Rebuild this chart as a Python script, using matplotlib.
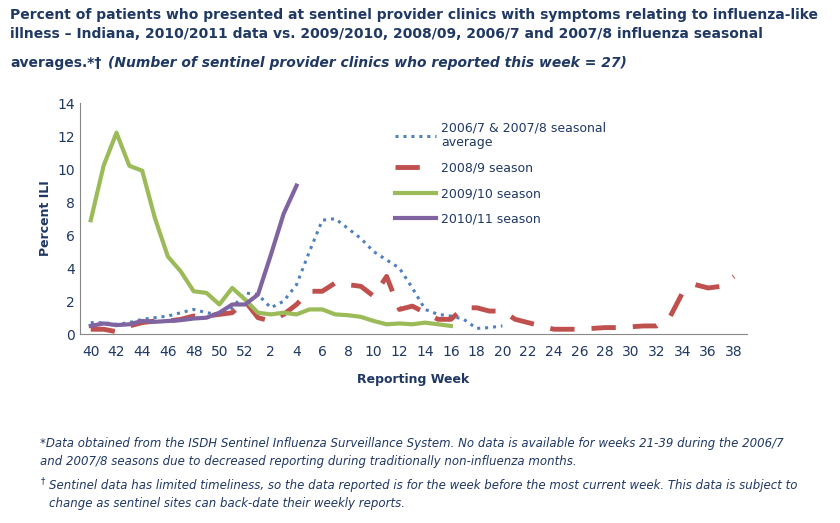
import matplotlib
matplotlib.use("Agg")
import matplotlib.pyplot as plt

weeks = list(range(40, 53)) + list(range(1, 39))
tick_labels = [str(w) for w in weeks]

avg_0607_0708 = [0.7, 0.7, 0.6, 0.7, 0.9, 1.0, 1.1, 1.3, 1.5, 1.3, 1.2, 1.6, 2.5, 2.4, 1.6, 2.0,
                 3.0, 5.0, 6.9, 7.0, 6.4, 5.8, 5.0, 4.5, 4.0, 2.8, 1.5, 1.2, 1.1, 0.9, 0.35, 0.4, 0.5]
season_0809 = [0.3, 0.3, 0.15, 0.5, 0.7, 0.8, 0.8, 0.9, 1.1, 1.1, 1.2, 1.3, 2.0, 1.0, 0.8, 1.2,
               1.8, 2.6, 2.6, 3.1, 3.0, 2.9, 2.3, 3.5, 1.5, 1.7, 1.3, 0.9, 0.9, 1.6, 1.6, 1.4,
               1.4, 0.9, 0.7, 0.5, 0.3, 0.3, 0.3, 0.35, 0.4, 0.4, 0.45, 0.5, 0.5, 1.0, 2.5,
               3.0, 2.8, 2.9, 3.5]
season_0910 = [6.9, 10.2, 12.2, 10.2, 9.9, 7.0, 4.7, 3.8, 2.6, 2.5, 1.8, 2.8, 2.1, 1.3, 1.2,
               1.3, 1.2, 1.5, 1.5, 1.2, 1.15, 1.05, 0.8, 0.6, 0.65, 0.6, 0.7, 0.6, 0.5]
season_1011 = [0.5, 0.65, 0.55, 0.6, 0.8, 0.75, 0.8, 0.85, 0.95, 1.0, 1.3, 1.8, 1.8, 2.4,
               4.8, 7.3, 9.0]

navy = "#1F3864"
fig = plt.figure(figsize=(8.4, 5.23), dpi=100)
ax = fig.add_axes([0.095, 0.361, 0.794, 0.442])

ax.plot(range(len(avg_0607_0708)), avg_0607_0708, color="#4F81BD", lw=2.2,
        linestyle=(0, (1, 1.6)), label="2006/7 & 2007/8 seasonal\naverage")
ax.plot(range(len(season_0809)), season_0809, color="#C0504D", lw=3.5,
        linestyle=(0, (5, 3.5)), label="2008/9 season")
ax.plot(range(len(season_0910)), season_0910, color="#9BBB59", lw=3, label="2009/10 season")
ax.plot(range(len(season_1011)), season_1011, color="#8064A2", lw=3, label="2010/11 season")

ax.set_xlim(-0.85, 51)
ax.set_ylim(0, 14)
ax.set_yticks(range(0, 15, 2))
ax.set_xticks(range(0, len(weeks), 2))
ax.set_xticklabels(tick_labels[::2])
ax.tick_params(colors=navy, labelsize=10, length=0)
ax.tick_params(axis="x", pad=8)
for s in ["top", "right"]:
    ax.spines[s].set_visible(False)
for s in ["left", "bottom"]:
    ax.spines[s].set_color("#888888")
ax.set_ylabel("Percent ILI", color=navy, fontsize=9, fontweight="bold")
ax.set_xlabel("Reporting Week", color=navy, fontsize=9, fontweight="bold", labelpad=10)

leg = ax.legend(loc="upper left", bbox_to_anchor=(0.455, 0.97), frameon=False,
                fontsize=9, handlelength=3.3, labelspacing=1.0, handletextpad=0.4)
for t in leg.get_texts():
    t.set_color(navy)

fig.text(0.012, 0.985, "Percent of patients who presented at sentinel provider clinics with symptoms relating to influenza-like\n"
         "illness \u2013 Indiana, 2010/2011 data vs. 2009/2010, 2008/09, 2006/7 and 2007/8 influenza seasonal",
         color=navy, fontsize=10, fontweight="bold", va="top", linespacing=1.45)
fig.text(0.012, 0.893, "averages.*\u2020", color=navy, fontsize=10, fontweight="bold", va="top")
fig.text(0.128, 0.893, "(Number of sentinel provider clinics who reported this week = 27)",
         color=navy, fontsize=10, fontweight="bold", style="italic", va="top")

fig.text(0.048, 0.165, "*Data obtained from the ISDH Sentinel Influenza Surveillance System. No data is available for weeks 21-39 during the 2006/7\n"
         "and 2007/8 seasons due to decreased reporting during traditionally non-influenza months.",
         color=navy, fontsize=8.5, style="italic", va="top", linespacing=1.5)
fig.text(0.048, 0.09, "\u2020", color=navy, fontsize=6, va="top")
fig.text(0.058, 0.085, "Sentinel data has limited timeliness, so the data reported is for the week before the most current week. This data is subject to\n"
         "change as sentinel sites can back-date their weekly reports.",
         color=navy, fontsize=8.5, style="italic", va="top", linespacing=1.5)

fig.savefig("out.png", dpi=100)
